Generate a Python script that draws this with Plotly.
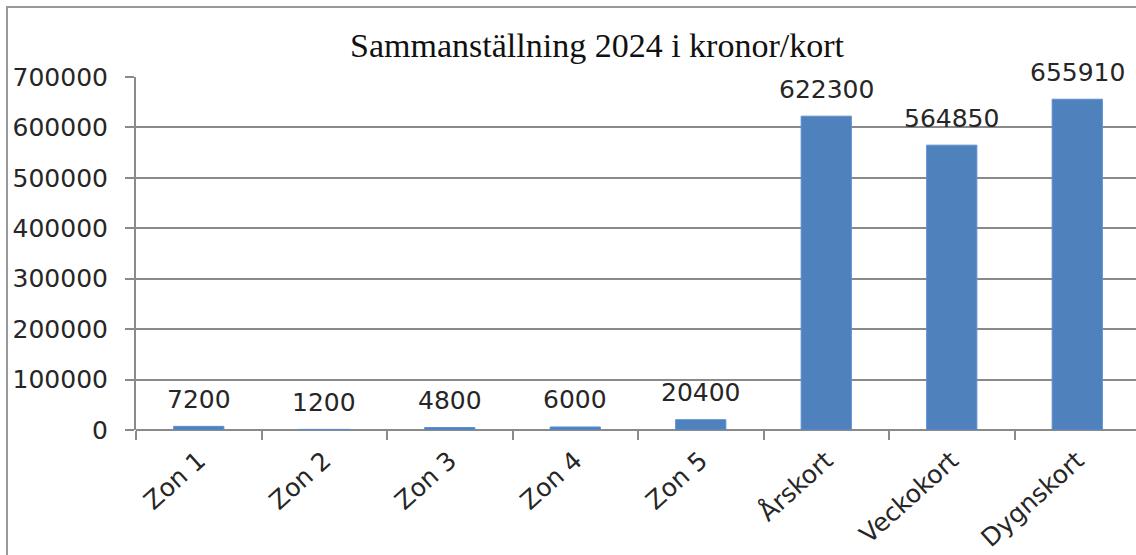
import plotly.graph_objects as go

categories = ["Zon 1", "Zon 2", "Zon 3", "Zon 4", "Zon 5", "Årskort", "Veckokort", "Dygnskort"]
values = [7200, 1200, 4800, 6000, 20400, 622300, 564850, 655910]
y_ticks = [0, 100000, 200000, 300000, 400000, 500000, 600000, 700000]
title_text = "Sammanställning 2024 i kronor/kort"

W, H = 1136, 555
L, R, T, B = 136, 0, 77, 125
pw, ph = W - L - R, H - T - B

fig = go.Figure()
fig.add_trace(go.Bar(
    x=categories, y=values,
    marker=dict(color="#4F81BD", line=dict(color="#5B8FD0", width=1)),
    width=0.4,
))

for c, v in zip(categories, values):
    fig.add_annotation(x=c, y=v, text=str(v), showarrow=False,
                       yanchor="middle", yshift=27,
                       font=dict(family="DejaVu Sans", size=25, color="#262626"))

gray = "#8a8a8a"
fig.update_layout(
    width=W, height=H,
    margin=dict(l=L, r=R, t=T, b=B),
    paper_bgcolor="white", plot_bgcolor="white",
    showlegend=False,
    title=dict(text=title_text, x=597 / W, xanchor="center", y=1 - 45 / H, yanchor="middle",
               font=dict(family="Liberation Serif", size=34, color="#111111")),
    xaxis=dict(
        type="category", range=[-0.5, -0.5 + pw / 125.5],
        tickson="boundaries", ticks="outside", ticklen=9, tickcolor=gray, tickwidth=2,
        showline=False, showgrid=False, tickangle=-42,
        ticklabelstandoff=10,
        tickfont=dict(family="DejaVu Sans", size=25, color="#262626"),
    ),
    yaxis=dict(
        range=[0, 700000], tickvals=y_ticks, ticktext=[str(t) for t in y_ticks],
        ticks="outside", ticklen=9, tickcolor=gray, tickwidth=2,
        showline=True, linecolor=gray, linewidth=2,
        showgrid=True, gridcolor=gray, gridwidth=2,
        zeroline=True, zerolinecolor=gray, zerolinewidth=2,
        ticklabelstandoff=12,
        tickfont=dict(family="DejaVu Sans", size=25, color="#262626"),
    ),
    shapes=[dict(type="rect", xref="paper", yref="paper",
                 x0=(7 - L) / pw, x1=1.2, y0=-1, y1=1 + (T - 7) / ph,
                 line=dict(color="#999999", width=2), layer="below")],
)

fig.write_html("out.html", config={"displayModeBar": False},
               post_script="document.body.style.margin='0';document.body.style.overflow='hidden';")
